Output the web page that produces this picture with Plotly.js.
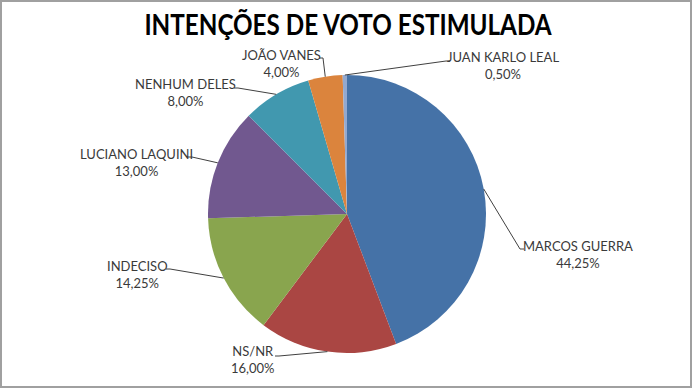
<!DOCTYPE html>
<html><head><meta charset="utf-8">
<script src="https://cdn.plot.ly/plotly-3.0.1.min.js"></script>
<style>html,body{margin:0;padding:0;background:#fff;}#chart{width:696px;height:389px;}</style>
</head><body><div id="chart"></div>
<script>
const categories = ["MARCOS GUERRA","NS/NR","INDECISO","LUCIANO LAQUINI","NENHUM DELES","JOÃO VANES","JUAN KARLO LEAL"];
const values = [44.25, 16.00, 14.25, 13.00, 8.00, 4.00, 0.50];
const valueLabels = ["44,25%","16,00%","14,25%","13,00%","8,00%","4,00%","0,50%"];
const colors = ["#4572A7","#AA4643","#89A54E","#71588F","#4198AF","#DB843D","#93A9CF"];

// layout helpers (pixels)
const W = 696, H = 389;
const PIE = {cx: 347, cy: 214, r: 139};
const TITLE_WIDTH = 408;
// label block centre x, centre y, leader hook start x, hook y, hook direction
const labelLayout = [
  [578, 254.5, 524, 249, -1],
  [253, 359, 275, 356, 1],
  [137, 274.5, 166, 269, 1],
  [136.5, 162.5, 188, 157, 1],
  [186, 92, 234, 88, 1],
  [281, 64, 319, 58, 1],
  [503, 65.5, 450, 61, -1]
];

const px = x => x / W;
const py = y => 1 - y / H;

const total = values.reduce((a, b) => a + b, 0);
let cum = 0;
const annotations = [];
const shapes = [];
values.forEach((v, i) => {
  const mid = (cum + v / 2) / total;
  cum += v;
  const th = 2 * Math.PI * mid;
  const ex = PIE.cx + PIE.r * Math.sin(th);
  const ey = PIE.cy - PIE.r * Math.cos(th);
  const [lx, ly, hx, hy, dir] = labelLayout[i];
  annotations.push({
    xref: 'paper', yref: 'paper', x: px(lx), y: py(ly),
    xanchor: 'center', yanchor: 'middle', showarrow: false, align: 'center',
    text: categories[i] + '<br>' + valueLabels[i],
    font: {family: 'Lato, "Open Sans", sans-serif', size: 13, color: '#3a3a3a'}
  });
  const hx2 = hx + dir * 4;
  shapes.push({
    type: 'path', xref: 'paper', yref: 'paper',
    path: `M ${px(hx)} ${py(hy)} L ${px(hx2)} ${py(hy)} L ${px(ex)} ${py(ey)}`,
    line: {color: '#404040', width: 1}
  });
});

shapes.push({
  type: 'rect', xref: 'paper', yref: 'paper',
  x0: px(1), x1: px(691), y0: py(387), y1: py(1),
  line: {color: '#A0A0A0', width: 2}
});

const data = [{
  type: 'pie',
  labels: categories,
  values: values,
  sort: false,
  direction: 'clockwise',
  rotation: 0,
  textinfo: 'none',
  hoverinfo: 'none',
  marker: {colors: colors, line: {width: 0}},
  domain: {
    x: [px(PIE.cx - PIE.r), px(PIE.cx + PIE.r)],
    y: [py(PIE.cy + PIE.r), py(PIE.cy - PIE.r)]
  },
  showlegend: false
}];

const layout = {
  width: W, height: H,
  margin: {l: 0, r: 0, t: 0, b: 0},
  paper_bgcolor: '#fff',
  title: {
    text: '<b>INTENÇÕES DE VOTO ESTIMULADA</b>',
    x: 0.5, xanchor: 'center', y: py(25), yanchor: 'middle',
    font: {family: 'Lato, sans-serif', size: 28, color: '#000'}
  },
  annotations: annotations,
  shapes: shapes
};

Plotly.newPlot('chart', data, layout, {displayModeBar: false, staticPlot: true}).then(gd => {
  // condense the title horizontally to mimic the narrow original typeface
  const t = gd.querySelector('.gtitle');
  if (t) {
    const bb = t.getBBox();
    const s = TITLE_WIDTH / bb.width;
    const c = bb.x + bb.width / 2;
    t.setAttribute('transform', `translate(${c * (1 - s)},0) scale(${s},1)`);
  }
});
</script>
</body></html>
